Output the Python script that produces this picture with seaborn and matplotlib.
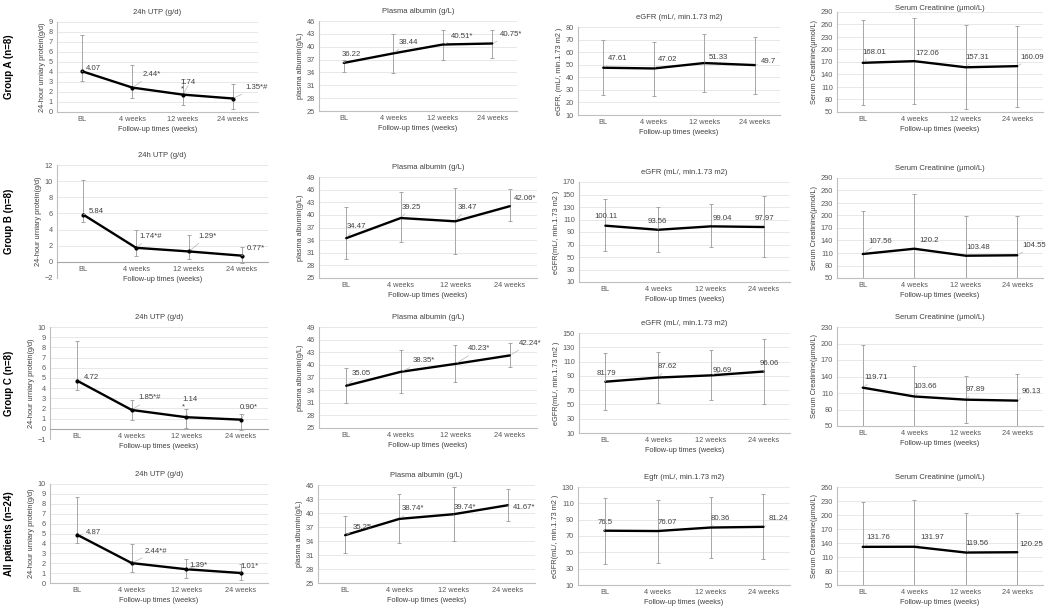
import numpy as np
import pandas as pd
import seaborn as sns
import matplotlib.pyplot as plt

weeks = ["BL", "4 weeks", "12 weeks", "24 weeks"]
groups = ["Group A (n=8)", "Group B (n=8)", "Group C (n=8)", "All patients (n=24)"]

# 24h urinary protein (g/d); one row per group
utp_mean = [[4.07, 2.44, 1.74, 1.35], [5.84, 1.74, 1.29, 0.77],
            [4.72, 1.85, 1.14, 0.90], [4.87, 2.01, 1.39, 1.01]]
utp_low = [[3.1, 1.45, 0.75, 0.35], [4.95, 0.7, 0.3, -0.2],
           [3.78, 0.83, 0.08, -0.08], [4.0, 1.1, 0.5, 0.3]]
utp_high = [[7.7, 4.75, 3.3, 2.85], [10.15, 3.92, 3.3, 1.85],
            [8.6, 2.86, 1.95, 1.46], [8.7, 3.9, 2.4, 1.9]]
utp_text = [["4.07", "2.44*", "1.74\n*", "1.35*#"], ["5.84", "1.74*#", "1.29*", "0.77*"],
            ["4.72", "1.85*#", "1.14\n*", "0.90*"], ["4.87", "2.44*#", "1.39*", "1.01*"]]

# plasma albumin (g/L)
alb_mean = [[36.22, 38.44, 40.51, 40.75], [34.47, 39.25, 38.47, 42.06],
            [35.05, 38.35, 40.23, 42.24], [35.25, 38.74, 39.74, 41.67]]
alb_low = [[34.1, 33.75, 36.85, 37.25], [29.4, 33.5, 30.8, 38.5],
           [31.05, 33.4, 36.0, 39.55], [31.5, 33.5, 34.0, 38.3]]
alb_high = [[37.0, 43.05, 43.8, 44.0], [41.8, 45.35, 46.4, 46.1],
            [39.3, 43.65, 44.83, 45.3], [39.3, 44.0, 45.5, 45.2]]
alb_text = [["36.22", "38.44", "40.51*", "40.75*"], ["34.47", "39.25", "38.47", "42.06*"],
            ["35.05", "38.35*", "40.23*", "42.24*"], ["35.25", "38.74*", "39.74*", "41.67*"]]

# eGFR
egfr_mean = [[47.61, 47.02, 51.33, 49.7], [100.11, 93.56, 99.04, 97.97],
             [81.79, 87.62, 90.69, 96.06], [76.5, 76.07, 80.36, 81.24]]
egfr_low = [[25.9, 25.4, 27.9, 26.6], [59.4, 58.3, 65.3, 50.3],
            [42.7, 52.5, 55.7, 51.0], [36, 37, 43, 42]]
egfr_high = [[69.4, 68.1, 74.7, 72.1], [143.2, 129.7, 134.6, 146.9],
             [122, 123.4, 126.7, 142], [117, 114, 118, 121]]
egfr_text = [["47.61", "47.02", "51.33", "49.7"], ["100.11", "93.56", "99.04", "97.97"],
             ["81.79", "87.62", "90.69", "96.06"], ["76.5", "76.07", "80.36", "81.24"]]

# serum creatinine (umol/L)
scr_mean = [[168.01, 172.06, 157.31, 160.09], [107.56, 120.2, 103.48, 104.55],
            [119.71, 103.66, 97.89, 96.13], [131.76, 131.97, 119.56, 120.25]]
scr_low = [[66, 69.3, 56.4, 62], [5, -11, 9, 11],
           [41.6, 47.8, 54.9, 47.3], [35.5, 32, 34, 35.5]]
scr_high = [[271.5, 275.5, 259.4, 257], [210, 251.6, 198, 198],
            [197.8, 159.5, 141.8, 144.9], [228, 232, 205, 205]]
scr_text = [["168.01", "172.06", "157.31", "160.09"], ["107.56", "120.2", "103.48", "104.55"],
            ["119.71", "103.66", "97.89", "96.13"], ["131.76", "131.97", "119.56", "120.25"]]

titles = ["24h UTP (g/d)", "Plasma albumin (g/L)", "eGFR (mL/, min.1.73 m2)", "Serum Creatinine (\u03bcmol/L)"]
egfr_titles = ["eGFR (mL/, min.1.73 m2)"] * 3 + ["Egfr (mL/, min.1.73 m2)"]
ylabels = ["24-hour urniary protein(g/d)", "plasma albumin(g/L)", "eGFR(mL/, min.1.73 m2 )", "Serum Creatinine(\u03bcmol/L)"]
egfr_ylabels = ["eGFR, (mL/, min.1.73 m2 )"] + ["eGFR(mL/, min.1.73 m2 )"] * 3

# ---- layout (pixels on a 1052x611 canvas) ----
W, H = 1052, 611
boxes = [
    [(57, 22, 258, 112), (319, 21, 517, 111), (578, 27, 780, 115), (837, 12, 1043, 112)],
    [(57, 165, 268, 278), (319, 177, 537, 278), (579, 182, 790, 282), (837, 178, 1043, 278)],
    [(50, 327, 268, 439), (319, 327, 537, 428), (579, 333, 790, 433), (837, 327, 1043, 426)],
    [(50, 484, 268, 583), (318, 485, 535, 583), (578, 487, 790, 585), (837, 487, 1043, 585)],
]
title_pad = [[6, 6, 6, 1.5], [6, 6, 6, 6], [6, 6, 6, 6], [6, 6, 6, 6]]
ylims = [
    [(0, 9, 1), (25, 46, 3), (10, 80, 10), (50, 290, 30)],
    [(-2, 12, 2), (25, 49, 3), (10, 170, 20), (50, 290, 30)],
    [(-1, 10, 1), (25, 49, 3), (10, 150, 20), (50, 230, 30)],
    [(0, 10, 1), (25, 46, 3), (10, 130, 20), (50, 260, 30)],
]
offsets = [
    [[(4, 3), (10, 13), (-2, 9), (12, 11)], [(-2, 8), (5, 11), (8, 8), (8, 9)],
     [(5, 9), (4, 9), (4, 6), (6, 4)], [(0, 10), (1, 8), (0, 10), (3, 9)]],
    [[(5, 3), (3, 11), (9, 15), (5, 7)], [(0, 12), (1, 11), (2, 14), (4, 8)],
     [(-11, 9), (-10, 8), (2, 8), (-9, 9)], [(6, 13), (5, 8), (1, 8), (5, 10)]],
    [[(7, 3), (7, 12), (-4, 14), (-1, 12)], [(5, 12), (12, 11), (13, 15), (9, 12)],
     [(-9, 8), (0, 11), (2, 5), (-4, 8)], [(2, 10), (-1, 10), (0, 10), (4, 9)]],
    [[(9, 2), (13, 12), (3, 4), (0, 7)], [(8, 8), (2, 10), (0, 7), (5, -2)],
     [(-7, 8), (0, 9), (0, 9), (5, 8)], [(4, 9), (6, 9), (0, 9), (2, 8)]],
]

sns.set_theme(style="white")
plt.rcParams["font.family"] = ["Liberation Sans", "DejaVu Sans"]
FS = 5.3
TXT = "#404040"

fig = plt.figure(figsize=(W / 100, H / 100), dpi=100)


def draw_panel(ax, mean, low, high, labels, lim, offs, title, ylabel, marker, tpad):
    lo, hi, step = lim
    pos = np.arange(len(weeks))
    df = pd.DataFrame({"pos": pos, "value": mean})
    yerr = [np.subtract(mean, low), np.subtract(high, mean)]
    ax.errorbar(pos, mean, yerr=yerr, fmt="none", ecolor="#a6a6a6",
                elinewidth=0.7, capsize=1.6, capthick=0.7, zorder=2)
    sns.lineplot(data=df, x="pos", y="value", ax=ax, color="black", lw=1.7,
                 marker="o" if marker else None, markersize=3, markeredgewidth=0, zorder=3)
    for i, (txt, (dx, dy)) in enumerate(zip(labels, offs)):
        ax.annotate(txt, xy=(i, mean[i]), xytext=(dx, dy), textcoords="offset pixels",
                    fontsize=FS + 0.3, ha="left", va="center", color=TXT,
                    multialignment="left", linespacing=1.0,
                    arrowprops=dict(arrowstyle="-", color="#b5b5b5", lw=0.5, shrinkA=0, shrinkB=1.5))
    ax.set_xlim(-0.5, 3.5)
    ax.set_ylim(lo, hi)
    ax.set_yticks(np.arange(lo, hi + step / 2, step))
    ax.set_xticks(pos, weeks)
    ax.yaxis.grid(True, color="#dedede", lw=0.5)
    ax.xaxis.grid(False)
    ax.set_axisbelow(True)
    for s in ["top", "right"]:
        ax.spines[s].set_visible(False)
    ax.spines["left"].set_color("#bfbfbf")
    ax.spines["left"].set_linewidth(0.8)
    ax.spines["bottom"].set_color("#bfbfbf")
    ax.spines["bottom"].set_linewidth(0.8)
    if lo < 0:
        ax.spines["bottom"].set_position(("data", 0))
        ax.spines["bottom"].set_color("#a6a6a6")
    ax.tick_params(axis="both", length=0, labelsize=FS, labelcolor="#595959", pad=3)
    ax.set_title(title, fontsize=FS + 0.2, color=TXT, pad=tpad)
    ax.set_xlabel("Follow-up times (weeks)", fontsize=FS, color=TXT, labelpad=2)
    ax.set_ylabel(ylabel, fontsize=FS, color=TXT, labelpad=2)


for r in range(4):
    measures = [
        (utp_mean[r], utp_low[r], utp_high[r], utp_text[r], titles[0], ylabels[0]),
        (alb_mean[r], alb_low[r], alb_high[r], alb_text[r], titles[1], ylabels[1]),
        (egfr_mean[r], egfr_low[r], egfr_high[r], egfr_text[r], egfr_titles[r], egfr_ylabels[r]),
        (scr_mean[r], scr_low[r], scr_high[r], scr_text[r], titles[3], ylabels[3]),
    ]
    for c, (m, lo_, hi_, lab, tt, yl) in enumerate(measures):
        x0, y0, x1, y1 = boxes[r][c]
        ax = fig.add_axes([x0 / W, 1 - y1 / H, (x1 - x0) / W, (y1 - y0) / H])
        draw_panel(ax, m, lo_, hi_, lab, ylims[r][c], offsets[r][c], tt, yl, c == 0, title_pad[r][c])
    yc = (boxes[r][0][1] + boxes[r][0][3]) / 2
    fig.text(9 / W, 1 - yc / H, groups[r], rotation=90, fontsize=7, fontweight="bold",
             ha="center", va="center", color="black")

fig.savefig("out.png", dpi=100)
